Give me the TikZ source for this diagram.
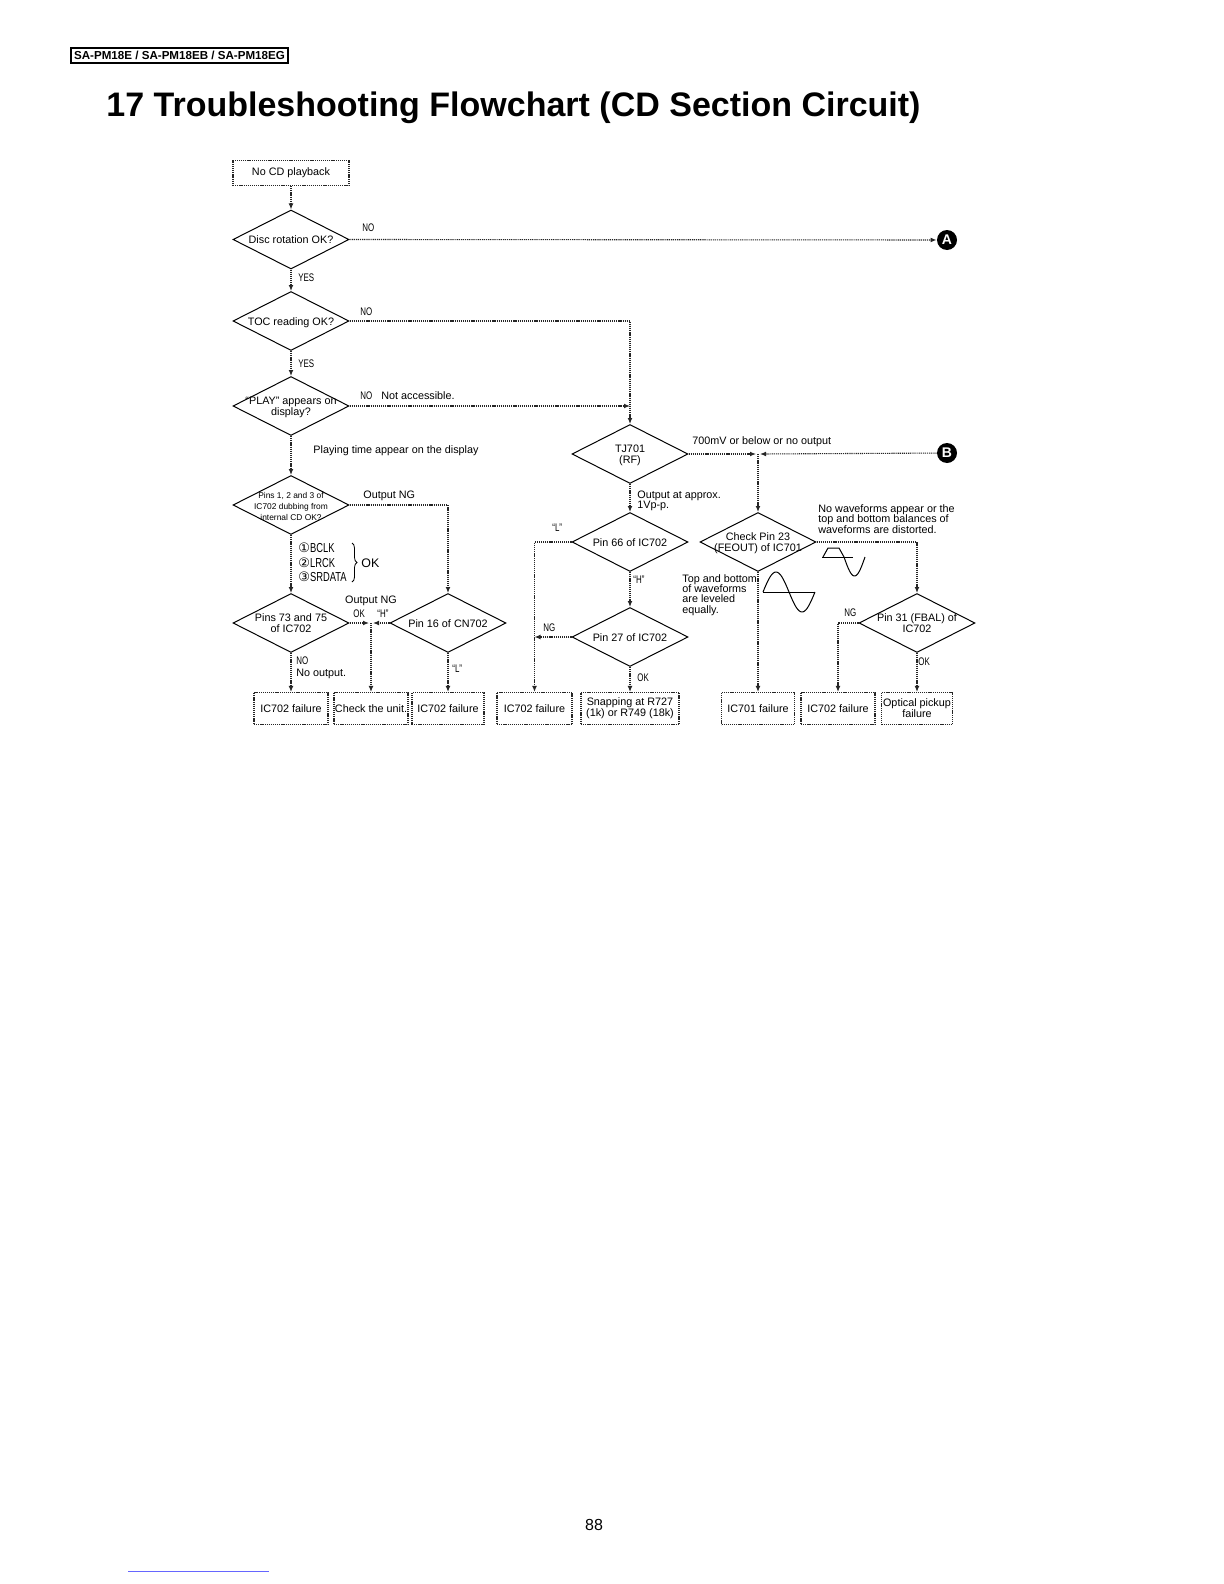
\documentclass[tikz,border=0pt]{standalone}
\usepackage{fontspec}
\setmainfont{Liberation Sans}
\newfontfamily\circfont{DejaVu Sans}
\usepackage{graphicx}
\usetikzlibrary{
  arrows.meta,
  positioning,
  shapes.geometric,
  decorations.pathreplacing
}
\newcommand{\ctr}[1]{\smash{\makebox[0pt]{\raisebox{-2.3pt}{\begin{tabular}{@{}c@{}}#1\end{tabular}}}}}
\newcommand{\cnd}[1]{\scalebox{0.72}[1]{#1}}

\begin{document}
\begin{tikzpicture}[x=0.5pt,y=-0.5pt,>={Latex[length=3pt,width=2.4pt]},
  every node/.style={inner sep=0pt,font=\fontsize{5.4}{5.4}\selectfont},
  flow/.style={draw=black!85,dash pattern=on 0.6pt off 0.45pt,line width=0.55pt},
  box/.style={draw=black!85,dash pattern=on 0.6pt off 0.45pt,line width=0.55pt,rectangle,minimum height=16pt,align=center},
  ask/.style={draw,line width=0.5pt,diamond,minimum width=58pt,minimum height=29.5pt},
  lbl/.style={anchor=west,align=left,font=\fontsize{5.4}{5.15}\selectfont},
  yn/.style={anchor=west,font=\fontsize{5.5}{6}\selectfont},
  sig/.style={anchor=west,font=\fontsize{6.5}{7}\selectfont},
  conn/.style={circle,fill=black,text=white,minimum size=10pt,font=\bfseries\fontsize{7}{7}\selectfont}]
  \useasboundingbox (0,0) rectangle (1224,1584);
  % page head
  \node[draw,line width=0.6pt,minimum width=108.5pt,minimum height=7.5pt,
        font=\bfseries\fontsize{5.8}{6}\selectfont] (hdr) at (179.5,55.5) {SA-PM18E / SA-PM18EB / SA-PM18EG};
  \node[anchor=base west,font=\bfseries\fontsize{17}{20}\selectfont] (ttl) at (106,117)
    {17 Troubleshooting Flowchart (CD Section Circuit)};
  % left column
  \node[box,minimum width=58pt,minimum height=12.5pt] (start) at (291,173) {No CD playback};
  \node[ask] (qdisc) at (291,239.5) {\ctr{Disc rotation OK?}};
  \node[ask] (qtoc)  at (291,321)   {\ctr{TOC reading OK?}};
  \node[ask] (qplay) at (291,406)   {\ctr{“PLAY” appears on\\display?}};
  \node[ask,font=\fontsize{4.2}{5.5}\selectfont] (qpins) at (291,505)
    {\ctr{Pins 1, 2 and 3 of\\IC702 dubbing from\\internal CD OK?}};
  \node[ask] (q7375) at (291,623)   {\ctr{Pins 73 and 75\\of IC702}};
  \node[ask] (qcn)   at (448,623)   {\ctr{Pin 16 of CN702}};
  % middle column
  \node[ask] (qtj) at (630,454) {\ctr{TJ701\\(RF)}};
  \node[ask] (q66) at (630,542) {\ctr{Pin 66 of IC702}};
  \node[ask] (q27) at (630,637) {\ctr{Pin 27 of IC702}};
  % right column
  \node[ask] (q23) at (758,542) {\ctr{Check Pin 23\\(FEOUT) of IC701}};
  \node[ask] (q31) at (917,623) {\ctr{Pin 31 (FBAL) of\\IC702}};
  \node[conn] (conA) at (947,240) {A};
  \node[conn] (conB) at (947,453) {B};
  % result boxes
  \node[box,minimum width=37pt]   (f1) at (291,708.5) {IC702 failure};
  \node[box,minimum width=37pt]   (f2) at (371,708.5) {Check the unit.};
  \node[box,minimum width=36pt]   (f3) at (448,708.5) {IC702 failure};
  \node[box,minimum width=37.5pt] (f4) at (534.5,708.5) {IC702 failure};
  \node[box,minimum width=49pt]   (f5) at (630,708.5) {Snapping at R727\\(1k) or R749 (18k)};
  \node[box,minimum width=36.5pt] (f6) at (758,708.5) {IC701 failure};
  \node[box,minimum width=37pt]   (f7) at (838,708.5) {IC702 failure};
  \node[box,minimum width=35.5pt] (f8) at (917,708.5) {Optical pickup\\failure};
  % junctions
  \coordinate (jplay) at (630,406);
  \coordinate (jchk) at (371,623);
  \coordinate (jB) at (758,454);
  % connectors
  \draw[flow,->] (start) -- (qdisc);
  \draw[flow,->] (qdisc) -- (qtoc);
  \draw[flow,->] (qtoc) -- (qplay);
  \draw[flow,->] (qplay) -- (qpins);
  \draw[flow,->] (qpins) -- (q7375);
  \draw[flow,->] (q7375) -- (f1);
  \draw[flow,->] (qcn) -- (f3);
  \draw[flow,->] (qdisc.east) -- (conA);
  \draw[flow,->] (qtoc.east) -| (qtj.north);
  \draw[flow,->] (qplay.east) -- (jplay);
  \draw[flow,->] (qpins.east) -| (qcn.north);
  \draw[flow,->] (q7375.east) -- ([xshift=-1pt]jchk);
  \draw[flow,->] (qcn.west) -- ([xshift=1pt]jchk);
  \draw[flow,->] (jchk) -- (f2.north);
  \draw[flow,->] (qtj) -- (q66);
  \draw[flow,->] (q66) -- (q27);
  \draw[flow,->] (q27) -- (f5);
  \draw[flow,->] (q66.west) -| (f4.north);
  \draw[flow,->] (q27.west) -- (q27.west -| f4.north);
  \draw[flow,->] (qtj.east) -- ([xshift=-1pt]jB);
  \draw[flow,->] (conB) -- ([xshift=1pt]jB);
  \draw[flow,->] (jB) -- (q23.north);
  \draw[flow,->] (q23) -- (f6);
  \draw[flow,->] (q23.east) -| (q31.north);
  \draw[flow,->] (q31.west) -| (f7.north);
  \draw[flow,->] (q31) -- (f8);
  % labels
  \node[yn] (tNoDisc)  at (362,228) {\cnd{NO}};
  \node[yn] (tYesDisc) at (298,278) {\cnd{YES}};
  \node[yn] (tNoToc)   at (360,312) {\cnd{NO}};
  \node[yn] (tYesToc)  at (298,364) {\cnd{YES}};
  \node[yn] (tNoPlay)  at (360,396) {\cnd{NO}};
  \node[lbl] (tNotAcc) at (381,396) {Not accessible.};
  \node[lbl] (tPlayTime) at (313,451) {Playing time appear on the display};
  \node[lbl] (tOutNG1) at (363,496) {Output NG};
  \node[sig] (tBclk) at (298,548) {{\circfont ①}\cnd{BCLK}};
  \node[sig] (tLrck) at (298,563) {{\circfont ②}\cnd{LRCK}};
  \node[sig] (tSrd)  at (298,577) {{\circfont ③}\cnd{SRDATA}};
  \draw[decorate,decoration={brace,amplitude=2.5pt},line width=0.4pt] (352,543) -- (352,582);
  \node[lbl,font=\fontsize{6.2}{7}\selectfont] (tOkSig) at (361,563) {OK};
  \node[lbl,anchor=center] (tOutNG2) at (371,601) {Output NG};
  \node[yn] (tOk7375) at (353,614) {\cnd{OK}};
  \node[yn] (tH16)    at (377,614) {\cnd{“H”}};
  \node[yn] (tNo7375) at (296,661) {\cnd{NO}};
  \node[lbl] (tNoOut) at (296,674) {No output.};
  \node[yn] (tL16)    at (452,669) {\cnd{“L”}};
  \node[lbl] (t700) at (692,442) {700mV or below or no output};
  \node[lbl] (tOutApprox) at (637,501) {Output at approx.\\1Vp-p.};
  \node[yn] (tL66)  at (552,528) {\cnd{“L”}};
  \node[yn] (tH66)  at (633,580) {\cnd{“H”}};
  \node[yn] (tNg27) at (543,628) {\cnd{NG}};
  \node[yn] (tOk27) at (637,678) {\cnd{OK}};
  \node[lbl] (tLevel) at (682,595) {Top and bottom\\of waveforms\\are leveled\\equally.};
  \node[lbl] (tDistort) at (818,519) {No waveforms appear or the\\top and bottom balances of\\waveforms are distorted.};
  \node[yn] (tNg31) at (844,613) {\cnd{NG}};
  \node[yn] (tOk31) at (918,662) {\cnd{OK}};
  % waveforms
  \draw[line width=0.5pt] (822,557) -- (853,557);
  \draw[line width=0.5pt] (823,557) -- (828,548) -- (839,548) -- (844,557)
    plot[domain=844:865,samples=20] (\x,{557+19*sin(8.571*(\x-844))});
  \draw[line width=0.5pt] (763,592) -- (815,592);
  \draw[line width=0.5pt] plot[domain=763:815,samples=40] (\x,{592-20*sin(6.923*(\x-763))});
  % page foot
  \node[font=\fontsize{8}{9}\selectfont] (pgno) at (594,1525) {88};
  \draw[blue!60,line width=0.5pt] (128,1571) -- (269,1571);
\end{tikzpicture}
\end{document}
